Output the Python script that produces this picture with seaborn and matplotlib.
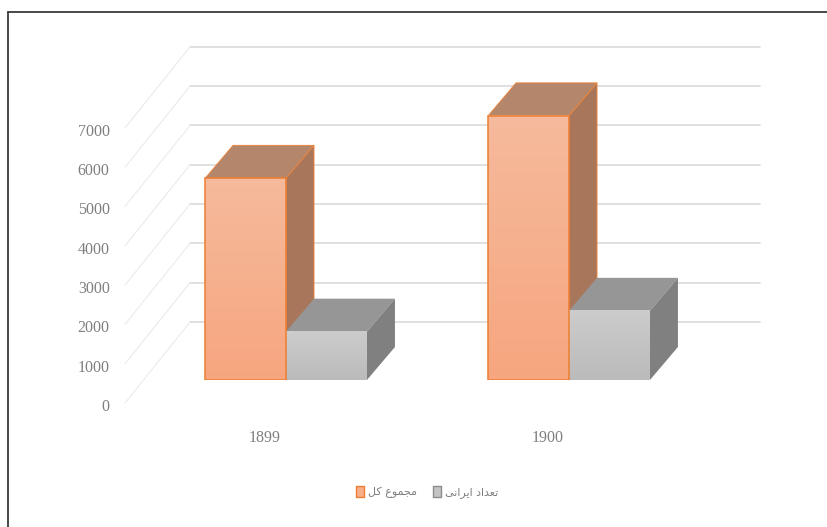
import matplotlib
matplotlib.use('Agg')
import matplotlib.pyplot as plt
import matplotlib.transforms as mtrans
from matplotlib.colors import LinearSegmentedColormap
from matplotlib.patches import Polygon
import numpy as np
import pandas as pd
import seaborn as sns

# Data
years = ['1899', '1899', '1900', '1900']
series = ['مجموع کل', 'تعداد ایرانی', 'مجموع کل', 'تعداد ایرانی']
values = [5130, 1230, 6720, 1760]
y_ticks = [0, 1000, 2000, 3000, 4000, 5000, 6000, 7000]
palette = {'مجموع کل': '#F7AE8A', 'تعداد ایرانی': '#C4C4C4'}

# Arabic letter forms (isolated, final, initial, medial), matplotlib does no shaping
forms = {
    'م': '\ufee1\ufee2\ufee3\ufee4', 'ج': '\ufe9d\ufe9e\ufe9f\ufea0',
    'و': '\ufeed\ufeee', 'ع': '\ufec9\ufeca\ufecb\ufecc',
    'ک': '\ufb8e\ufb8f\ufb90\ufb91', 'ل': '\ufedd\ufede\ufedf\ufee0',
    'ت': '\ufe95\ufe96\ufe97\ufe98', 'د': '\ufea9\ufeaa',
    'ا': '\ufe8d\ufe8e', 'ی': '\ufbfc\ufbfd\ufbfe\ufbff',
    'ر': '\ufead\ufeae', 'ن': '\ufee5\ufee6\ufee7\ufee8',
}


def shape(text):
    out = []
    for i, ch in enumerate(text):
        if ch not in forms:
            out.append(ch)
            continue
        before = i > 0 and text[i - 1] in forms and len(forms[text[i - 1]]) == 4
        after = i < len(text) - 1 and text[i + 1] in forms and len(forms[ch]) == 4
        out.append(forms[ch][int(before) + 2 * int(after)])
    return ''.join(reversed(out))


df = pd.DataFrame({'year': years, 'series': series, 'value': values})

sns.set_theme(style='white')
plt.rcParams['font.family'] = ['Liberation Serif', 'DejaVu Sans']

W, H = 828, 527
fig = plt.figure(figsize=(W / 100, H / 100), dpi=100)

# Front plane of the bars, in pixels of the picture
base_px, top_px = 380, 380 - 8000 * 0.0393
left_px, right_px = 125, 695
ax = fig.add_axes([left_px / W, 1 - base_px / H, (right_px - left_px) / W, (base_px - top_px) / H])

sns.barplot(data=df, x='year', y='value', hue='series', palette=palette, hue_order=list(palette),
            width=0.572, gap=0, saturation=1, ax=ax, zorder=3)

ax.set_ylim(0, 8000)
ax.set_xlim(-161 / 283, 409 / 283)
sns.despine(ax=ax, left=True, bottom=True)
ax.patch.set_alpha(0)
ax.set_xlabel('')
ax.set_ylabel('')


def shifted(dx, dy):
    return ax.transData + mtrans.Affine2D().translate(dx, dy)


# Back wall lines and the slanted lines running to the tick labels
x0, x1 = ax.get_xlim()
for v in y_ticks:
    ax.plot([x0, x1], [v, v], color='#DADADA', lw=1.2, transform=shifted(65, 58), clip_on=False, zorder=1)
    p0 = shifted(0, -23).transform((x0, v))
    p1 = shifted(65, 58).transform((x0, v))
    ax.plot([p0[0], p1[0]], [p0[1], p1[1]], color='#EBEBEB', lw=0.8, transform=None, clip_on=False, zorder=1)

# Bars: depth faces and a soft gradient on the front
dx, dy = 28, 33
orange_grad = LinearSegmentedColormap.from_list('o', ['#F7A67F', '#F5BA9C'])
gray_grad = LinearSegmentedColormap.from_list('g', ['#BBBBBB', '#CCCCCC'])
bars = [b for b in ax.patches if b.get_height() > 0]
for b in bars:
    is_orange = b.get_height() in (values[0], values[2])
    ext = b.get_bbox()
    (xa, ya), (xb, yb) = ax.transData.transform([(ext.x0, ext.y0), (ext.x1, ext.y1)])
    top = [(xa, yb), (xb, yb), (xb + dx, yb + dy), (xa + dx, yb + dy)]
    side = [(xb, ya), (xb + dx, ya + dy), (xb + dx, yb + dy), (xb, yb)]
    edge = '#E9843F' if is_orange else 'none'
    # gray block stands in front of the orange side face
    z = 2.5 if is_orange else 2.7
    ax.add_patch(Polygon(top, closed=True, transform=None, fc='#B4866C' if is_orange else '#969696',
                         ec=edge, lw=0.7, clip_on=False, zorder=z))
    ax.add_patch(Polygon(side, closed=True, transform=None, fc='#A8765A' if is_orange else '#808080',
                         ec=edge, lw=0.7, clip_on=False, zorder=z))
    ax.imshow(np.linspace(1, 0, 64).reshape(-1, 1), cmap=orange_grad if is_orange else gray_grad,
              extent=(ext.x0, ext.x1, ext.y0, ext.y1), aspect='auto', zorder=3.2)
    b.set_facecolor('none')
    b.set_edgecolor('#ED7D31' if is_orange else 'none')
    b.set_linewidth(1.1)
    b.set_zorder(3.4)

ax.set_xlim(x0, x1)
ax.set_ylim(0, 8000)

# Ticks
ax.set_yticks(y_ticks)
ax.tick_params(axis='y', length=0, pad=11, labelsize=11.5, labelcolor='#7F7F7F')
ax.tick_params(axis='x', length=0, pad=36, labelsize=11.5, labelcolor='#7F7F7F')
for lab in ax.get_yticklabels():
    lab.set_transform(lab.get_transform() + mtrans.Affine2D().translate(0, -25))
for lab in ax.get_xticklabels():
    lab.set_transform(lab.get_transform() + mtrans.Affine2D().translate(-21, 0))

# Legend
sns.move_legend(ax, loc='center', bbox_to_anchor=(427 / W, 1 - 492 / H), bbox_transform=fig.transFigure,
                ncol=2, title=None, frameon=False, fontsize=8, handlelength=0.75, handleheight=1.25,
                columnspacing=1.4, handletextpad=0.35)
leg = ax.get_legend()
for t in leg.get_texts():
    t.set_text(shape(t.get_text()))
    t.set_color('#7F7F7F')
    t.set_fontfamily('DejaVu Sans')
leg.legend_handles[0].set_edgecolor('#ED7D31')
leg.legend_handles[0].set_facecolor('#F7AE8A')
leg.legend_handles[1].set_edgecolor('#8C8C8C')
leg.legend_handles[1].set_facecolor('#C4C4C4')

# Picture frame
fig.add_artist(plt.Line2D([8 / W, 8 / W], [0, 1 - 12 / H], color='#3A3A3A', lw=1.3))
fig.add_artist(plt.Line2D([8 / W, 1], [1 - 12 / H, 1 - 12 / H], color='#3A3A3A', lw=1.3))

plt.savefig('out.png', dpi=100)
